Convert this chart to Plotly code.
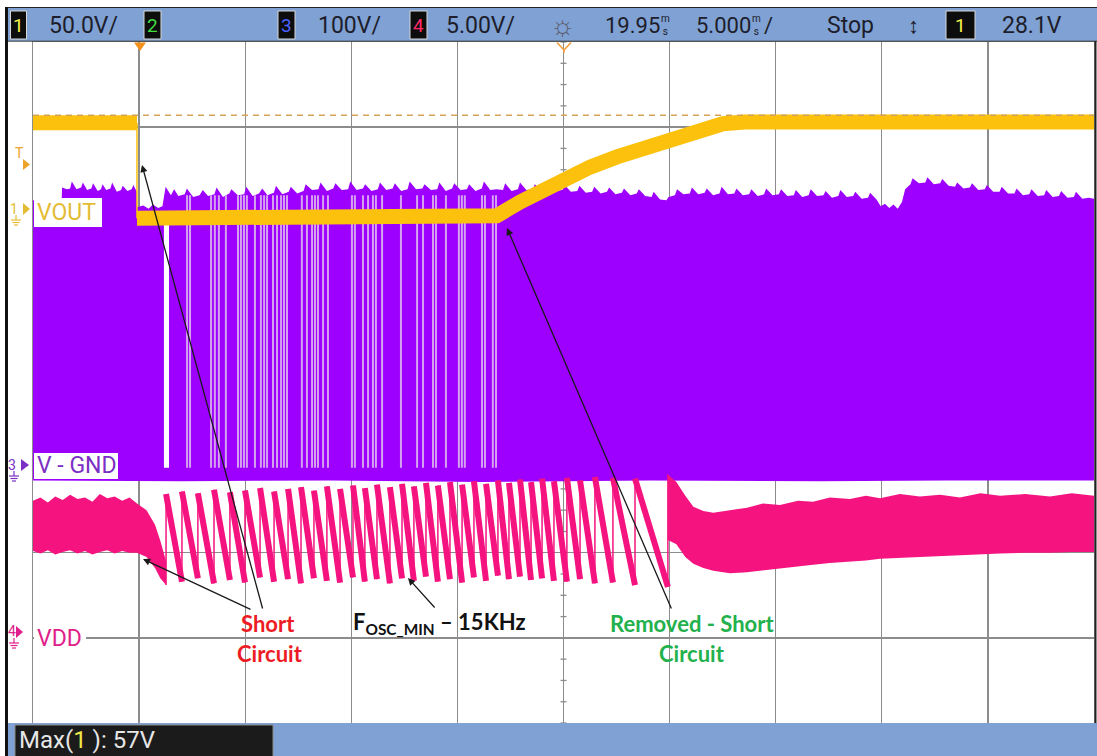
import plotly.graph_objects as go

# ---------------- data: time in ms, amplitude in screen divisions ----------------
T_LEFT, T_RIGHT = -5.05, 44.95
T_CENTER = 19.95

# CH1  VOUT (yellow)
vout_pre_t = [-5.05, -0.15]
vout_pre_v = [3.05, 3.05]
vout_drop_t = [-0.15, -0.15]
vout_drop_v = [3.05, 1.93]
vout_post_t = [-0.15, 16.72, 16.81, 17.90, 18.84, 19.92, 21.20, 22.47, 23.56, 24.97, 26.23, 27.46, 28.49, 29.67, 44.95]
vout_post_v = [1.93, 1.93, 1.96, 2.12, 2.25, 2.38, 2.53, 2.65, 2.74, 2.86, 2.96, 3.04, 3.06, 3.06, 3.06]
cursor_level = 3.14

# CH3  V-GND (purple) envelope
gnd_top_t = [-5.05, -3.70,
             -3.68, -3.45, -3.30, -3.22, -3.0, -2.78, -2.70, -2.5, -2.3, -2.22, -2.0, -1.85, -1.77, -1.6,
             -1.4, -1.32, -1.1, -0.9, -0.82, -0.6, -0.4, -0.32, -0.16,
             -0.15, 0.15, 0.4, 0.6, 0.85, 1.05,
             1.2, 1.45, 1.6, 1.8, 2.1, 2.2, 2.5, 2.8, 2.95, 3.2, 3.5, 3.6, 3.9, 4.2, 4.3, 4.6, 4.9, 5.0,
             5.3, 5.6, 5.75, 6.0, 6.3, 6.4, 6.7, 7.0, 7.1, 7.4,
             7.7, 7.8, 8.1, 8.4, 8.5, 8.8, 9.1, 9.2, 9.5, 9.8, 9.9, 10.2, 10.5, 10.6, 10.9, 11.2, 11.3,
             11.6, 11.9, 12.0, 12.3, 12.6, 12.7, 13.0, 13.3, 13.4, 13.7, 14.0, 14.1, 14.4, 14.7, 14.8,
             15.1, 15.4, 15.5, 15.8, 16.1, 16.2, 16.5,
             16.8, 17.1, 17.2, 17.5, 17.8, 17.9, 18.2, 18.5, 18.6, 18.9, 19.2, 19.3, 19.6, 19.9, 20.0,
             20.3, 20.6, 20.7, 21.0, 21.3, 21.4, 21.7, 22.0, 22.1, 22.4, 22.7, 22.8, 23.1, 23.4, 23.5,
             23.8, 24.1, 24.2, 24.5, 24.8, 24.9,
             25.2, 25.3, 25.6, 25.9, 26.0, 26.3, 26.6, 26.7, 27.0, 27.3, 27.4, 27.7, 28.0, 28.1, 28.4,
             28.7, 28.8, 29.1, 29.4, 29.5, 29.8, 30.1, 30.2, 30.5, 30.8, 30.9, 31.2, 31.5, 31.6, 31.9,
             32.2, 32.3, 32.6, 32.9, 33.0, 33.3, 33.6, 33.7, 34.0, 34.3, 34.4, 34.7,
             34.9, 35.1, 35.3, 35.5, 35.7, 35.9,
             36.05, 36.3, 36.4, 36.7, 37.0, 37.1, 37.4, 37.7, 37.8, 38.1, 38.4, 38.5,
             38.8, 39.1, 39.2, 39.5, 39.8, 39.9, 40.2, 40.5, 40.6, 40.9, 41.2, 41.3, 41.6, 41.9, 42.0,
             42.3, 42.6, 42.7, 43.0, 43.3, 43.4, 43.7, 44.0, 44.1, 44.4, 44.7, 44.95]
gnd_top_v = [2.14, 2.14,
             2.29, 2.27, 2.28, 2.36, 2.27, 2.29, 2.35, 2.26, 2.28, 2.34, 2.25, 2.27, 2.33, 2.26,
             2.28, 2.35, 2.24, 2.26, 2.31, 2.25, 2.27, 2.32, 2.24,
             2.06, 2.08, 2.04, 2.09, 2.05, 2.07,
             2.30, 2.20, 2.27, 2.19, 2.21, 2.28, 2.18, 2.20, 2.26, 2.19, 2.21, 2.29, 2.18, 2.22, 2.27, 2.20,
             2.21, 2.30, 2.19, 2.22, 2.28, 2.20, 2.23, 2.31, 2.21, 2.24, 2.30, 2.22,
             2.25, 2.33, 2.26, 2.27, 2.35, 2.25, 2.28, 2.34, 2.26, 2.27, 2.36, 2.26, 2.28, 2.33, 2.25, 2.27,
             2.35, 2.26, 2.28, 2.34, 2.25, 2.27, 2.36, 2.27, 2.28, 2.33, 2.26, 2.27, 2.35, 2.25, 2.28, 2.34,
             2.26, 2.27, 2.33, 2.25, 2.28, 2.36, 2.26,
             2.27, 2.26, 2.34, 2.25, 2.27, 2.35, 2.26, 2.27, 2.33, 2.25, 2.27, 2.34, 2.25, 2.26, 2.32,
             2.24, 2.25, 2.31, 2.23, 2.24, 2.30, 2.22, 2.24, 2.29, 2.21, 2.23, 2.28, 2.20, 2.22, 2.27,
             2.19, 2.18, 2.24, 2.15, 2.14, 2.18,
             2.20, 2.27, 2.21, 2.22, 2.29, 2.21, 2.23, 2.28, 2.20, 2.22, 2.30, 2.21, 2.22, 2.28, 2.20,
             2.21, 2.27, 2.19, 2.21, 2.28, 2.20, 2.21, 2.27, 2.19, 2.20, 2.26, 2.18, 2.20, 2.27, 2.19,
             2.20, 2.25, 2.17, 2.19, 2.26, 2.18, 2.19, 2.24, 2.16, 2.17, 2.23, 2.15,
             2.07, 2.10, 2.05, 2.09, 2.04, 2.12,
             2.27, 2.33, 2.40, 2.34, 2.35, 2.41, 2.33, 2.34, 2.39, 2.31, 2.30, 2.35,
             2.28, 2.29, 2.34, 2.26, 2.27, 2.32, 2.24, 2.24, 2.30, 2.22, 2.22, 2.28, 2.20, 2.21, 2.27,
             2.19, 2.20, 2.26, 2.18, 2.19, 2.25, 2.17, 2.18, 2.24, 2.16, 2.17, 2.16]
gnd_bot_t = [-5.05, 2.0, 9.0, 16.0, 24.0, 32.0, 38.0, 44.95]
gnd_bot_v = [-1.15, -1.16, -1.15, -1.17, -1.15, -1.16, -1.15, -1.15]
gap_t = [1.12, 1.36]
gap_v = [1.99, -1.00]
stripe_t = [2.21, 2.35, 3.34, 3.52, 3.71, 4.04, 4.61, 4.75, 4.89, 5.03, 5.41, 5.69, 5.84, 5.98, 6.26, 6.45,
            6.64, 6.78, 6.92, 7.62, 7.86, 8.10, 8.24, 8.38, 8.62, 8.85, 9.98, 10.12, 10.50, 10.74, 10.97,
            11.11, 11.40, 12.29, 13.05, 13.33, 13.80, 13.94, 14.41, 15.02, 15.16, 15.30, 16.11, 16.25,
            16.62, 16.77]
stripe_top, stripe_bot = 2.20, -1.00

# CH4  VDD (pink)
vdd_pre_t = [-5.05, -4.7, -4.35, -4.0, -3.65, -3.3, -2.95, -2.6, -2.25, -1.9, -1.55, -1.2, -0.85, -0.5,
             -0.15, 0.3, 0.7, 0.95, 1.22]
vdd_pre_top = [-1.39, -1.35, -1.41, -1.34, -1.38, -1.32, -1.37, -1.35, -1.40, -1.31, -1.36, -1.34, -1.39,
               -1.35, -1.42, -1.50, -1.67, -1.86, -2.10]
vdd_pre_bot = [-1.98, -2.01, -1.97, -2.02, -1.99, -1.97, -2.01, -1.98, -2.02, -1.99, -1.97, -2.01, -1.98,
               -2.00, -2.00, -2.05, -2.18, -2.30, -2.38]
tooth_t = [1.22, 1.97, 2.72, 3.48, 4.23, 4.94, 5.65, 6.31, 6.97, 7.58, 8.19, 8.80, 9.42, 10.03, 10.59,
           11.16, 11.77, 12.34, 12.90, 13.47, 14.03, 14.60, 15.17, 15.73, 16.30, 16.86, 17.38, 17.90,
           18.42, 18.94, 19.50, 20.11, 20.73, 21.43, 22.28, 23.32, 24.87]
tooth_top = [-1.31, -1.28, -1.30, -1.26, -1.29, -1.27, -1.24, -1.28, -1.25, -1.23, -1.27, -1.22, -1.25,
             -1.21, -1.24, -1.20, -1.23, -1.19, -1.22, -1.18, -1.21, -1.17, -1.20, -1.16, -1.19, -1.15,
             -1.18, -1.14, -1.17, -1.13, -1.16, -1.12, -1.15, -1.11, -1.12, -1.13, -1.08]
tooth_bot = [-2.38, -2.34, -2.30, -2.36, -2.32, -2.35, -2.29, -2.34, -2.31, -2.36, -2.30, -2.33, -2.35,
             -2.29, -2.34, -2.31, -2.36, -2.30, -2.33, -2.28, -2.34, -2.31, -2.35, -2.29, -2.33, -2.27,
             -2.31, -2.28, -2.32, -2.30, -2.33, -2.34, -2.31, -2.36, -2.35, -2.38, -2.40]
vdd_post_t = [24.87, 25.27, 25.69, 26.07, 26.54, 27.01, 27.79, 28.60, 29.35, 30.15, 31.0, 31.71, 32.5,
              33.45, 34.2, 34.87, 35.8, 36.75, 37.7, 38.63, 39.6, 40.52, 41.7, 42.88, 43.9, 44.95]
vdd_post_top = [-1.08, -1.17, -1.33, -1.46, -1.51, -1.53, -1.50, -1.47, -1.42, -1.44, -1.39, -1.40, -1.35,
                -1.37, -1.33, -1.36, -1.31, -1.34, -1.32, -1.35, -1.30, -1.33, -1.31, -1.34, -1.30, -1.33]
vdd_post_bot = [-1.85, -1.90, -2.05, -2.13, -2.18, -2.21, -2.24, -2.23, -2.21, -2.18, -2.16, -2.14, -2.12,
                -2.10, -2.09, -2.07, -2.06, -2.05, -2.04, -2.03, -2.02, -2.01, -2.00, -2.00, -1.99, -1.99]

# ---------------- styling ----------------
W, H = 1097, 756
ML, MR, MT, MB = 33, 3, 42, 33
PW, PH = W - ML - MR, H - MT - MB
YEL, PUR, PNK = "#fbc10c", "#9d00ff", "#f5137f"
LAV = "#d6a2f0"
GRID = "#8c8c8c"
BAR = "#7fa1d3"
SCOPE_FONT = "Roboto, Liberation Sans, sans-serif"
NOTE_FONT = "Lato, Open Sans, sans-serif"


def PX(x):
    return (x - ML) / PW


def PY(y):
    return (H - MB - y) / PH


fig = go.Figure()


def area(xs, ys, color):
    fig.add_trace(go.Scatter(x=xs, y=ys, mode="lines", fill="toself", fillcolor=color,
                             line=dict(width=0, color=color), hoverinfo="skip", showlegend=False))


def line(xs, ys, color, width, dash=None):
    fig.add_trace(go.Scatter(x=xs, y=ys, mode="lines", line=dict(color=color, width=width, dash=dash),
                             hoverinfo="skip", showlegend=False, connectgaps=False))


# CH3 envelope
area(gnd_top_t + gnd_bot_t[::-1], gnd_top_v + gnd_bot_v[::-1], PUR)
area([gap_t[0], gap_t[1], gap_t[1], gap_t[0]], [gap_v[0], gap_v[0], gap_v[1], gap_v[1]], "#ffffff")
sx, sy = [], []
for t in stripe_t:
    sx += [t, t, None]
    sy += [stripe_top, stripe_bot, None]
line(sx, sy, LAV, 2)

# CH1
line(vout_pre_t, vout_pre_v, YEL, 15)
line(vout_drop_t, vout_drop_v, YEL, 1.5)
line(vout_post_t, vout_post_v, YEL, 15)

# CH4
area(vdd_pre_t + vdd_pre_t[::-1], vdd_pre_top + vdd_pre_bot[::-1], PNK)
rx, ry, dx, dy = [], [], [], []
for i in range(len(tooth_t)):
    rx += [tooth_t[i], tooth_t[i], None]
    ry += [tooth_bot[i], tooth_top[i], None]
    if i + 1 < len(tooth_t):
        dx += [tooth_t[i], tooth_t[i + 1], None]
        dy += [tooth_top[i], tooth_bot[i + 1], None]
line(dx, dy, PNK, 6)
line(rx, ry, PNK, 1.5)
area(vdd_post_t + vdd_post_t[::-1], vdd_post_top + vdd_post_bot[::-1], PNK)

# cursor
line([T_LEFT, T_RIGHT], [cursor_level, cursor_level], "#d3a35a", 1.5, dash="6px,5px")

shapes = []
# center-line ticks
for k in range(-16, 17):
    shapes.append(dict(type="line", xref="x", yref="y", x0=T_CENTER - 0.14, x1=T_CENTER + 0.14,
                       y0=k * 0.25, y1=k * 0.25, line=dict(color=GRID, width=1.3), layer="below"))
for k in range(-25, 26):
    shapes.append(dict(type="line", xref="x", yref="y", x0=T_CENTER + k, x1=T_CENTER + k,
                       y0=-0.04, y1=0.04, line=dict(color=GRID, width=1.3), layer="below"))


def prect(x0, y0, x1, y1, fill, lcolor=None, lw=0):
    shapes.append(dict(type="rect", xref="paper", yref="paper", x0=PX(x0), x1=PX(x1), y0=PY(y1), y1=PY(y0),
                       fillcolor=fill, line=dict(color=lcolor or fill, width=lw), layer="above"))


def pline(x0, y0, x1, y1, color, w):
    shapes.append(dict(type="line", xref="paper", yref="paper", x0=PX(x0), x1=PX(x1), y0=PY(y0), y1=PY(y1),
                       line=dict(color=color, width=w), layer="above"))


def ppath(pts, fill, lcolor=None, lw=0):
    d = "M " + " L ".join(f"{PX(x):.5f},{PY(y):.5f}" for x, y in pts) + " Z"
    shapes.append(dict(type="path", xref="paper", yref="paper", path=d, fillcolor=fill,
                       line=dict(color=lcolor or fill, width=lw), layer="above"))


# bars & frame
prect(8, 8, 1097, 41, BAR)
pline(5, 7.5, 1097, 7.5, "#222", 1.2)
pline(8, 41.2, 1097, 41.2, "#3a3a3a", 1)
prect(8, 723, 1097, 757, BAR)
pline(6.5, 7, 6.5, 756, "#111", 3)
pline(1095.5, 41, 1095.5, 723, "#222", 2)
prect(15, 725, 273, 758, "#1b1b1b", "#8a8a8a", 1)
# channel boxes in top bar
for x0, x1 in [(10.5, 26.5), (144, 161), (278, 295), (410, 427), (946, 975)]:
    prect(x0, 11, x1, 39, "#0d0d0d", "#d8d8d8", 1)
# label backgrounds
prect(34, 198, 102, 227, "#ffffff")
prect(34, 453, 118, 479, "#ffffff")
prect(34, 624, 86, 650, "#ffffff")
# trigger & reference markers
ppath([(134, 42.5), (146, 42.5), (140, 51)], "#f2901c")
shapes.append(dict(type="path", xref="paper", yref="paper",
                   path=f"M {PX(557):.5f},{PY(42.5):.5f} L {PX(564):.5f},{PY(50):.5f} L {PX(571):.5f},{PY(42.5):.5f}",
                   line=dict(color="#f0a040", width=1.6), layer="above"))
pline(564, 50, 564, 53, "#f0a040", 1.6)
# channel arrows on left
ppath([(23, 159), (23, 170), (30, 164.5)], "#eda22a")
ppath([(23, 203), (23, 215), (30, 209)], "#e4bc34")
ppath([(21, 459), (21, 471), (29, 465)], "#7b2fc4")
ppath([(16, 626), (16, 638), (23, 632)], "#e0208a")


def ground(x, y, color):
    pline(x, y, x, y + 5, color, 1.2)
    pline(x - 5, y + 5, x + 5, y + 5, color, 1.2)
    pline(x - 3.5, y + 7.5, x + 3.5, y + 7.5, color, 1.2)
    pline(x - 2, y + 10, x + 2, y + 10, color, 1.2)


ground(16, 215, "#e4bc34")
ground(14, 471, "#7b2fc4")
ground(14, 638, "#e0208a")

ann = []


def text(x, y, s, size, color, anchor="left", font=SCOPE_FONT):
    ann.append(dict(xref="paper", yref="paper", x=PX(x), y=PY(y), text=s, showarrow=False,
                    xanchor=anchor, yanchor="middle", font=dict(family=font, size=size, color=color)))


DARK = "#1d1d2b"
text(18.5, 25, "1", 19, "#f2f24a", "center")
text(47, 25, "50.0V/", 23, DARK)
text(152.5, 25, "2", 19, "#44dd44", "center")
text(286.5, 25, "3", 19, "#4a62ff", "center")
text(316, 25, "100V/", 23, DARK)
text(418.5, 25, "4", 19, "#ff2a6a", "center")
text(444, 25, "5.00V/", 23, DARK)
text(563, 25, "☼", 28, "#5a5a6a", "center")
text(603, 25, "19.95", 22, DARK)
text(665, 25, "m<br>s", 10, DARK, "center")
text(694, 25, "5.000", 22, DARK)
text(756, 25, "m<br>s", 10, DARK, "center")
text(762, 25, "/", 22, DARK)
text(825, 25, "Stop", 23, DARK)
text(913, 25, "↕", 22, DARK, "center")
text(960.5, 25, "1", 19, "#f2f24a", "center")
text(1000, 25, "28.1V", 23, DARK)
text(17, 740, "Max(<span style='color:#eee84a'>1</span> ): 57V", 24, "#e6e6e6")

# channel labels
text(19, 153, "T", 14, "#eda22a", "center")
text(14, 209, "1", 14, "#e4bc34", "center")
text(11.5, 465, "3", 14, "#7b2fc4", "center")
text(12, 631, "4", 14, "#e0208a", "center")
text(35, 213, "VOUT", 23, "#e4bc34")
text(35, 466, "V - GND", 23, "#7b2fc4")
text(35, 638, "VDD", 23, "#e0208a")

# notes
RED, GRN = "#ed1c24", "#22b14c"
text(268, 623, "<b>Short</b>", 22, RED, "center", NOTE_FONT)
text(270, 653, "<b>Circuit</b>", 22, RED, "center", NOTE_FONT)
text(351, 623, "<b>F<sub>OSC_MIN</sub> – 15KHz</b>", 22, "#111111", "left", NOTE_FONT)
text(692, 623, "<b>Removed - Short</b>", 22, GRN, "center", NOTE_FONT)
text(692, 653, "<b>Circuit</b>", 22, GRN, "center", NOTE_FONT)


def arrow(hx, hy, tx_, ty_):
    ann.append(dict(xref="paper", yref="paper", x=PX(hx), y=PY(hy), ax=tx_ - hx, ay=ty_ - hy, text="",
                    showarrow=True, arrowhead=2, arrowsize=1.1, arrowwidth=1.3, arrowcolor="#1a1a1a"))


arrow(142, 165, 263, 610)
arrow(143, 559, 252, 610)
arrow(408, 578, 436, 609)
arrow(507, 228, 672, 610)

fig.update_layout(
    width=W, height=H, margin=dict(l=ML, r=MR, t=MT, b=MB, pad=0),
    paper_bgcolor="#ffffff", plot_bgcolor="#ffffff", showlegend=False,
    xaxis=dict(range=[T_LEFT, T_RIGHT], tick0=T_LEFT, dtick=5, showgrid=True, gridcolor=GRID, gridwidth=1.3,
               zeroline=False, showline=True, mirror=True, linecolor=GRID, linewidth=1.3,
               showticklabels=False, ticks="", fixedrange=True),
    yaxis=dict(range=[-4, 4], tick0=-4, dtick=1, showgrid=True, gridcolor=GRID, gridwidth=1.3,
               zeroline=False, showline=True, mirror=True, linecolor=GRID, linewidth=1.3,
               showticklabels=False, ticks="", fixedrange=True),
    shapes=shapes, annotations=ann,
)
fig.write_html("out.html", config={"displayModeBar": False, "staticPlot": True})

with open("out.html", "r", encoding="utf-8") as fh:
    page = fh.read()
page = page.replace("<body>", '<body style="margin:0;padding:0;overflow:hidden">', 1)
with open("out.html", "w", encoding="utf-8") as fh:
    fh.write(page)
